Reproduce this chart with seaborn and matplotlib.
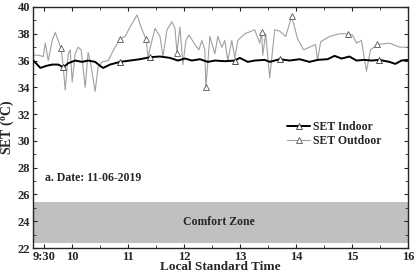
import numpy as np
import pandas as pd
import matplotlib
matplotlib.use('Agg')
import matplotlib.pyplot as plt
import seaborn as sns

# час у десяткових годинах і значення SET
t_out = [9.305, 9.394, 9.483, 9.519, 9.572, 9.643, 9.697, 9.750, 9.804, 9.840,
         9.875, 9.929, 9.964, 10.000, 10.053, 10.107, 10.160, 10.232, 10.285, 10.321,
         10.410, 10.463, 10.535, 10.642, 10.766, 10.856, 10.945, 11.034, 11.159, 11.248,
         11.319, 11.355, 11.426, 11.480, 11.569, 11.622, 11.693, 11.783, 11.836, 11.872,
         11.925, 11.979, 12.032, 12.086, 12.193, 12.264, 12.317, 12.371, 12.389, 12.460,
         12.549, 12.602, 12.674, 12.727, 12.781, 12.852, 12.906, 12.959, 13.084, 13.262,
         13.351, 13.387, 13.405, 13.458, 13.529, 13.619, 13.708, 13.815, 13.922, 14.029,
         14.135, 14.242, 14.349, 14.385, 14.439, 14.599, 14.777, 14.920, 15.009, 15.080,
         15.169, 15.258, 15.330, 15.455, 15.668, 15.847, 15.989]
set_out = [36.4, 36.4, 36.3, 37.3, 36.0, 37.5, 38.1, 37.5, 36.9, 35.5,
           33.8, 36.5, 36.8, 34.4, 36.5, 37.0, 36.8, 34.0, 36.6, 36.0,
           33.7, 35.5, 35.9, 36.0, 37.0, 37.6, 37.8, 38.5, 39.4, 38.3,
           37.6, 36.3, 37.5, 38.4, 37.8, 36.3, 38.3, 38.9, 38.4, 36.6,
           38.5, 35.7, 37.5, 37.9, 37.2, 36.8, 37.5, 36.8, 34.0, 37.8,
           36.5, 37.8, 37.0, 37.5, 36.0, 37.5, 36.2, 37.5, 38.0, 38.3,
           37.3, 38.1, 36.4, 38.0, 34.7, 38.3, 38.2, 37.8, 39.3, 37.6,
           36.8, 37.0, 37.2, 36.0, 37.4, 37.8, 38.0, 38.0, 37.9, 37.3,
           37.5, 35.2, 36.8, 37.2, 37.3, 37.0, 37.0]

t_in = [9.305, 9.376, 9.430, 9.537, 9.643, 9.750, 9.840, 9.929, 10.053, 10.178,
        10.285, 10.410, 10.499, 10.553, 10.677, 10.856, 11.034, 11.212, 11.390, 11.569,
        11.747, 11.889, 12.014, 12.139, 12.282, 12.424, 12.549, 12.727, 12.906, 12.995,
        13.137, 13.262, 13.440, 13.529, 13.708, 13.886, 14.064, 14.242, 14.385, 14.563,
        14.688, 14.813, 14.955, 15.080, 15.223, 15.348, 15.490, 15.668, 15.775, 15.882,
        15.989]
set_in = [36.0, 35.7, 35.45, 35.6, 35.7, 35.7, 35.5, 35.8, 36.0, 35.9,
          36.0, 35.9, 35.6, 35.45, 35.7, 35.9, 36.0, 36.1, 36.25, 36.3,
          36.2, 36.0, 36.15, 36.0, 36.1, 35.9, 36.0, 35.95, 36.0, 36.2,
          35.9, 36.0, 36.05, 35.9, 36.1, 36.0, 36.1, 35.9, 36.05, 36.1,
          36.35, 36.15, 36.3, 36.0, 36.05, 36.0, 36.05, 35.9, 35.75, 36.0,
          36.05]

mark_out = [8, 25, 30, 39, 48, 61, 68, 77, 83]
mark_in = [6, 15, 18, 28, 34, 46]

x_ticks = [9.5, 10, 11, 12, 13, 14, 15, 16]
x_labels = ['9:30', '10', '11', '12', '13', '14', '15', '16']
comfort = (22.4, 25.4)

sns.set_style('ticks')
plt.rcParams['font.family'] = ['Liberation Serif', 'DejaVu Serif']
plt.rcParams['font.weight'] = 'bold'
plt.rcParams['mathtext.fontset'] = 'custom'
plt.rcParams['mathtext.rm'] = 'Liberation Serif:bold'
plt.rcParams['mathtext.it'] = 'Liberation Serif:bold'

fig = plt.figure(figsize=(4.18, 2.79), dpi=100)
ax = fig.add_axes([0.079, 0.111, 0.897, 0.864])

ax.axhspan(comfort[0], comfort[1], color='#c0c0c0', lw=0, zorder=0)

df_in = pd.DataFrame({'t': t_in, 'v': set_in})
df_out = pd.DataFrame({'t': t_out, 'v': set_out})
sns.lineplot(data=df_in, x='t', y='v', ax=ax, color='black', lw=1.4,
             marker='^', markevery=mark_in, markersize=4.5, markerfacecolor='white',
             markeredgecolor='#333333', markeredgewidth=0.6, label='SET Indoor', zorder=3)
sns.lineplot(data=df_out, x='t', y='v', ax=ax, color='#a0a0a0', lw=0.8,
             marker='^', markevery=mark_out, markersize=4.5, markerfacecolor='white',
             markeredgecolor='#555555', markeredgewidth=0.6, label='SET Outdoor', zorder=2)

ax.set_xlim(9.3, 16)
ax.set_ylim(22, 40)
ax.set_xticks(x_ticks)
ax.set_xticklabels(x_labels)
ax.set_xticks([10.5, 11.5, 12.5, 13.5, 14.5, 15.5], minor=True)
ax.set_yticks(range(22, 41, 2))
ax.set_yticks(range(23, 40, 2), minor=True)
ax.tick_params(which='both', direction='in', top=True, right=True, labelsize=9, pad=2)
ax.tick_params(which='major', length=3, width=0.8)
ax.tick_params(which='minor', length=2, width=0.6)
for s in ax.spines.values():
    s.set_linewidth(1.0)

ax.set_xlabel('Local Standard Time', fontsize=9.5, fontweight='bold', labelpad=-1)
ax.set_ylabel('SET ($^o$C)', fontsize=10, fontweight='bold', labelpad=1)

ax.text(9.52, 27.2, 'a. Date: 11-06-2019', fontsize=8.5, fontweight='bold', va='center')
ax.text(12.62, 23.95, 'Comfort Zone', fontsize=8.5, fontweight='bold', ha='center', va='center')

ax.legend(loc='upper left', bbox_to_anchor=(0.677, 0.527), frameon=False, fontsize=8.5,
          handlelength=2.0, handletextpad=0.2, labelspacing=0.2, borderaxespad=0,
          borderpad=0)

fig.savefig('out.png', dpi=100)
